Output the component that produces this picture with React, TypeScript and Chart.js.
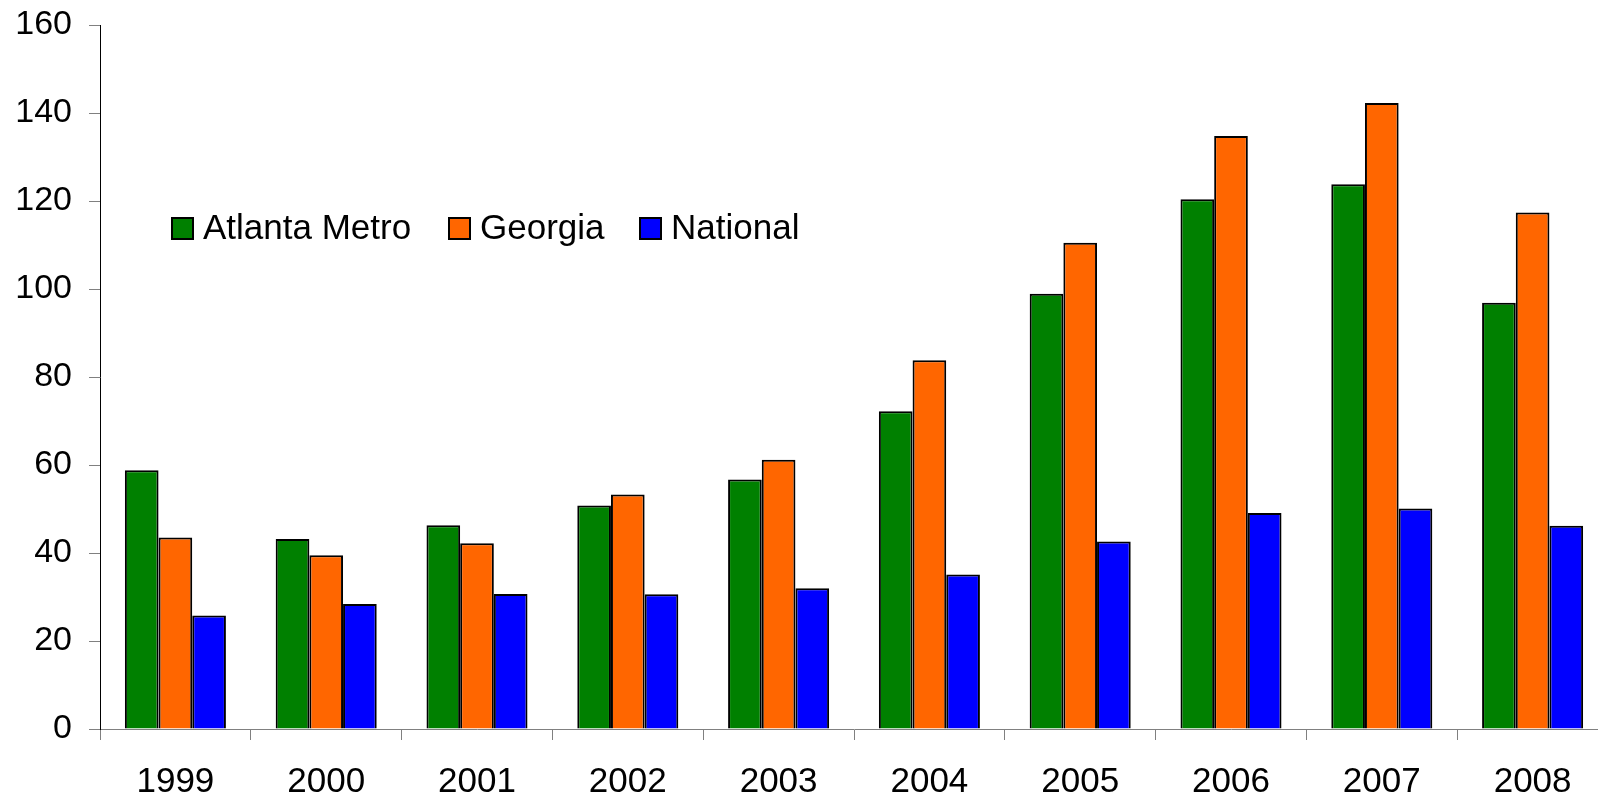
import React, { useEffect, useRef } from "react";
import { Chart, registerables } from "chart.js";

Chart.register(...registerables);

const years = ["1999", "2000", "2001", "2002", "2003", "2004", "2005", "2006", "2007", "2008"];
const atlantaMetro = [58.8, 43.2, 46.3, 50.8, 56.7, 72.2, 98.9, 120.4, 123.8, 96.9];
const georgia = [43.5, 39.5, 42.2, 53.3, 61.2, 83.8, 110.5, 134.8, 142.3, 117.4];
const national = [25.8, 28.4, 30.7, 30.6, 32.0, 35.1, 42.6, 49.1, 50.1, 46.2];
const seriesNames = ["Atlanta Metro", "Georgia", "National"];
const seriesColors = ["#008000", "#FF6600", "#0000FF"];

const FONT = "'Liberation Sans', Arial, sans-serif";

const legendPlugin = {
  id: "insideLegend",
  afterDraw(chart: any) {
    const ctx = chart.ctx;
    const boxX = [171, 448, 639];
    const boxY = 217;
    const box = 23;
    ctx.save();
    ctx.font = `35px ${FONT}`;
    ctx.textBaseline = "middle";
    ctx.textAlign = "left";
    chart.data.datasets.forEach((ds: any, i: number) => {
      ctx.fillStyle = ds.backgroundColor;
      ctx.fillRect(boxX[i], boxY, box, box);
      ctx.lineWidth = 2;
      ctx.strokeStyle = "#000";
      ctx.strokeRect(boxX[i] + 1, boxY + 1, box - 2, box - 2);
      ctx.fillStyle = "#000";
      ctx.fillText(ds.label, boxX[i] + box + 9, boxY + box / 2 + 1);
    });
    ctx.restore();
  },
};

export default function App() {
  const ref = useRef<HTMLCanvasElement>(null);
  useEffect(() => {
    if (!ref.current) return;
    const data = [atlantaMetro, georgia, national];
    const chart = new Chart(ref.current, {
      type: "bar",
      data: {
        labels: years,
        datasets: data.map((d, i) => ({
          label: seriesNames[i],
          data: d,
          backgroundColor: seriesColors[i],
          borderColor: "#000",
          borderWidth: 2,
          categoryPercentage: 0.67,
          barPercentage: 1,
        })),
      },
      options: {
        animation: false,
        responsive: false,
        layout: { padding: { top: 25, left: 0, right: 0, bottom: 0 } },
        plugins: { legend: { display: false }, tooltip: { enabled: false } },
        scales: {
          x: {
            grid: {
              display: true,
              drawOnChartArea: false,
              drawTicks: true,
              tickLength: 11,
              color: "#808080",
              offset: true,
            },
            border: { display: true, color: "#808080", width: 1 },
            ticks: {
              color: "#000",
              padding: 21,
              font: { family: FONT, size: 35 },
              maxRotation: 0,
              autoSkip: false,
            },
            afterFit: (s: any) => {
              s.height = 67;
            },
          },
          y: {
            min: 0,
            max: 160,
            grid: {
              display: true,
              drawOnChartArea: false,
              drawTicks: true,
              tickLength: 11,
              color: "#808080",
            },
            border: { display: true, color: "#000", width: 1 },
            ticks: {
              stepSize: 20,
              color: "#000",
              padding: 17,
              font: { family: FONT, size: 34 },
            },
            afterFit: (s: any) => {
              s.width = 100;
              s.paddingTop = 0;
              s.paddingBottom = 0;
            },
          },
        },
      },
      plugins: [legendPlugin],
    });
    return () => chart.destroy();
  }, []);
  return (
    <div style={{ position: "fixed", left: 0, top: 0, width: "100vw", height: "100vh", overflow: "hidden", background: "#fff" }}>
      <canvas ref={ref} width={1608} height={796} style={{ display: "block" }} />
    </div>
  );
}
